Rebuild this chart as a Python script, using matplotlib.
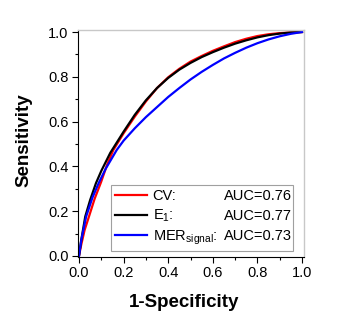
import matplotlib
matplotlib.use("Agg")
import matplotlib.pyplot as plt
from matplotlib.lines import Line2D
from matplotlib.ticker import MultipleLocator, FormatStrFormatter
from matplotlib.transforms import blended_transform_factory, IdentityTransform

plt.rcParams['font.family'] = ['Liberation Sans', 'DejaVu Sans']
plt.rcParams['mathtext.fontset'] = 'custom'
plt.rcParams['mathtext.rm'] = 'Liberation Sans'
plt.rcParams['mathtext.it'] = 'Liberation Sans'

# ROC curves (1-specificity, sensitivity)
cv_x = [0, 0.01, 0.025, 0.046, 0.07, 0.099, 0.125, 0.154, 0.2, 0.25, 0.3, 0.35, 0.4, 0.45,
        0.5, 0.55, 0.6, 0.65, 0.7, 0.75, 0.8, 0.85, 0.9, 0.95, 1.0]
cv_y = [0, 0.05, 0.115, 0.18, 0.255, 0.33, 0.405, 0.473, 0.548, 0.622, 0.69, 0.75, 0.798, 0.836,
        0.868, 0.893, 0.916, 0.936, 0.955, 0.97, 0.982, 0.99, 0.995, 0.998, 1.0]
e1_x = [0, 0.01, 0.028, 0.05, 0.076, 0.1, 0.14, 0.2, 0.25, 0.3, 0.35, 0.4, 0.45,
        0.5, 0.55, 0.6, 0.65, 0.7, 0.75, 0.8, 0.85, 0.9, 0.95, 1.0]
e1_y = [0, 0.07, 0.176, 0.25, 0.325, 0.38, 0.46, 0.555, 0.63, 0.695, 0.75, 0.795, 0.832,
        0.862, 0.888, 0.91, 0.93, 0.948, 0.963, 0.976, 0.986, 0.993, 0.998, 1.0]
mer_x = [0, 0.01, 0.032, 0.06, 0.088, 0.12, 0.169, 0.2, 0.25, 0.3, 0.35, 0.4, 0.45,
         0.5, 0.55, 0.6, 0.65, 0.7, 0.75, 0.8, 0.85, 0.9, 0.95, 1.0]
mer_y = [0, 0.07, 0.176, 0.26, 0.325, 0.39, 0.473, 0.515, 0.57, 0.62, 0.665, 0.71, 0.75,
         0.788, 0.822, 0.853, 0.882, 0.907, 0.93, 0.95, 0.967, 0.981, 0.992, 1.0]

labels = ["CV:", "E$_\\mathregular{1}$:", "MER$_{\\mathregular{signal}}$:"]
auc_labels = ["AUC=0.76", "AUC=0.77", "AUC=0.73"]
colors = ["#ff0000", "#000000", "#0000ff"]

fig = plt.figure(figsize=(3.42, 3.23), dpi=100)
ax = fig.add_axes([77.5 / 342, 1 - 257 / 323, 226 / 342, 227 / 323])

for xs, ys, c in zip([cv_x, e1_x, mer_x], [cv_y, e1_y, mer_y], colors):
    ax.plot(xs, ys, color=c, lw=1.6, solid_joinstyle='round')

ax.set_xlim(-0.0067, 1.0067)
ax.set_ylim(-0.0045, 1.009)
for axis in (ax.xaxis, ax.yaxis):
    axis.set_major_locator(MultipleLocator(0.2))
    axis.set_minor_locator(MultipleLocator(0.1))
    axis.set_major_formatter(FormatStrFormatter('%.1f'))
ax.tick_params(which='major', direction='out', length=4.5, width=0.8, labelsize=10.5, pad=2)
ax.tick_params(which='minor', direction='out', length=2.5, width=0.8)
ax.tick_params(top=False, right=False, which='both')
for s in ['top', 'right']:
    ax.spines[s].set_color('#c8c8c8')
    ax.spines[s].set_linewidth(1.0)
for s in ['left', 'bottom']:
    ax.spines[s].set_color('black')
    ax.spines[s].set_linewidth(0.8)

ax.set_xlabel("1-Specificity", fontsize=13.5, fontweight='bold')
ax.set_ylabel("Sensitivity", fontsize=13.5, fontweight='bold')
ax.xaxis.set_label_coords(0.473, -0.165)
ax.yaxis.set_label_coords(-0.20, 0.515)

handles = [Line2D([], [], color=c, lw=1.6) for c in colors]
leg = ax.legend(handles, labels, loc='lower left', mode='expand',
                bbox_to_anchor=(0.148, 0.026, 0.806, 0.28), fontsize=10.5,
                frameon=True, fancybox=False, edgecolor='#a0a0a0', framealpha=1.0,
                handlelength=2.2, handletextpad=0.35, labelspacing=0.3,
                borderpad=0.3, borderaxespad=0)
leg.get_frame().set_linewidth(0.8)

fig.canvas.draw()
trans = blended_transform_factory(ax.transAxes, IdentityTransform())
for t, auc in zip(leg.get_texts(), auc_labels):
    xd, yd = t.get_transform().transform(t.get_position())
    ax.text(0.948, yd, auc, transform=trans, ha='right', va='baseline',
            fontsize=10.5, zorder=10)

fig.savefig("out.png", dpi=100)
